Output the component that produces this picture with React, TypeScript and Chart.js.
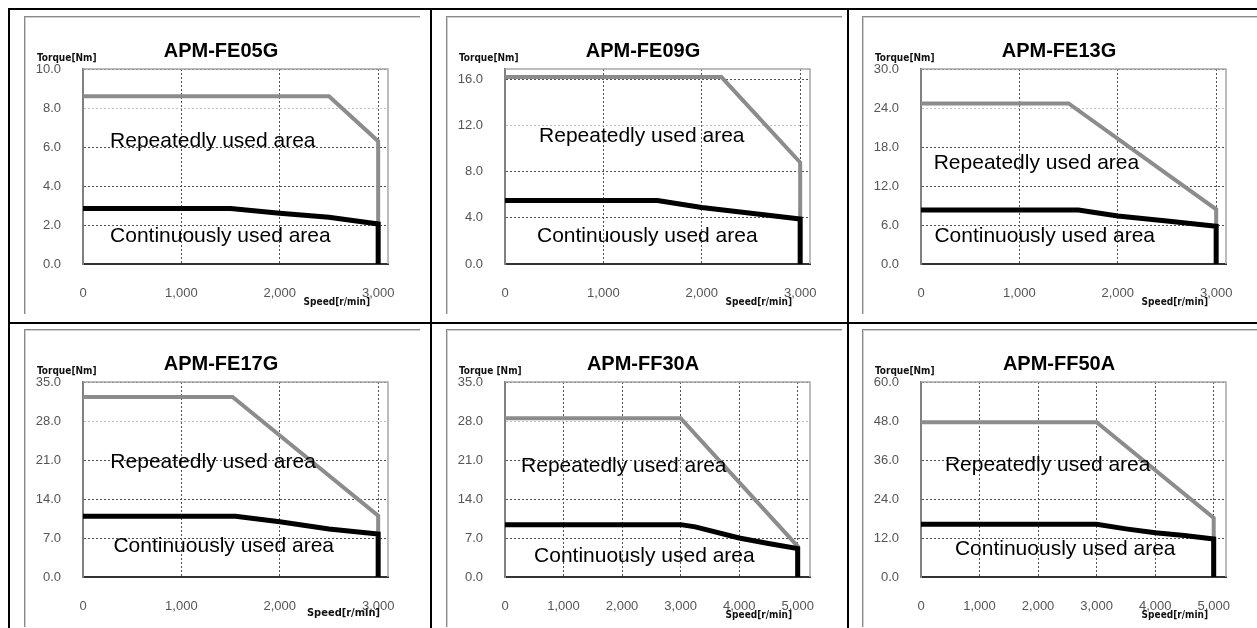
import React, { useEffect, useRef } from 'react';
import { Chart, registerables } from 'chart.js';

Chart.register(...registerables);

// ---------- data ----------
const speedTicks3000 = [0, 1000, 2000, 3000];
const speedTicks5000 = [0, 1000, 2000, 3000, 4000, 5000];

// APM-FE05G
const fe05gTorqueTicks = [0, 2, 4, 6, 8, 10];
const fe05gRepeatSpeed = [0, 2500, 3000, 3000];
const fe05gRepeatTorque = [8.6, 8.6, 6.3, 0];
const fe05gContSpeed = [0, 1500, 2000, 2500, 3000, 3000];
const fe05gContTorque = [2.85, 2.85, 2.6, 2.4, 2.05, 0];

// APM-FE09G
const fe09gTorqueTicks = [0, 4, 8, 12, 16];
const fe09gRepeatSpeed = [0, 2200, 3000, 3000];
const fe09gRepeatTorque = [16.2, 16.2, 8.8, 0];
const fe09gContSpeed = [0, 1550, 2000, 2500, 3000, 3000];
const fe09gContTorque = [5.5, 5.5, 4.9, 4.4, 3.9, 0];

// APM-FE13G
const fe13gTorqueTicks = [0, 6, 12, 18, 24, 30];
const fe13gRepeatSpeed = [0, 1500, 3000, 3000];
const fe13gRepeatTorque = [24.7, 24.7, 8.4, 0];
const fe13gContSpeed = [0, 1600, 2000, 2500, 3000, 3000];
const fe13gContTorque = [8.3, 8.3, 7.4, 6.6, 5.8, 0];

// APM-FE17G
const fe17gTorqueTicks = [0, 7, 14, 21, 28, 35];
const fe17gRepeatSpeed = [0, 1520, 3000, 3000];
const fe17gRepeatTorque = [32.3, 32.3, 11.0, 0];
const fe17gContSpeed = [0, 1550, 2000, 2500, 3000, 3000];
const fe17gContTorque = [10.9, 10.9, 9.9, 8.6, 7.7, 0];

// APM-FF30A
const ff30aTorqueTicks = [0, 7, 14, 21, 28, 35];
const ff30aRepeatSpeed = [0, 3000, 5000, 5000];
const ff30aRepeatTorque = [28.5, 28.5, 5.5, 0];
const ff30aContSpeed = [0, 3000, 3250, 4000, 4500, 5000, 5000];
const ff30aContTorque = [9.4, 9.4, 9.0, 7.0, 6.0, 5.1, 0];

// APM-FF50A
const ff50aTorqueTicks = [0, 12, 24, 36, 48, 60];
const ff50aRepeatSpeed = [0, 3000, 5000, 5000];
const ff50aRepeatTorque = [47.6, 47.6, 18.2, 0];
const ff50aContSpeed = [0, 3000, 3500, 4000, 4500, 5000, 5000];
const ff50aContTorque = [16.2, 16.2, 14.8, 13.6, 12.8, 11.7, 0];

const repeatLabel = 'Repeatedly used area';
const contLabel = 'Continuously used area';

type Panel = {
  title: string;
  torqueLabel: string;
  speedLabel: string;
  speedBig?: boolean;
  yTicks: number[];
  yMax: number;
  xTicks: number[];
  xMax: number;
  repeatSpeed: number[];
  repeatTorque: number[];
  contSpeed: number[];
  contTorque: number[];
  lightGrid: number;
  repeatPos: [number, number];
  contPos: [number, number];
  left: number;
  top: number;
};

const panels: Panel[] = [
  {
    title: 'APM-FE05G', torqueLabel: 'Torque[Nm]', speedLabel: 'Speed[r/min]',
    yTicks: fe05gTorqueTicks, yMax: 10, xTicks: speedTicks3000, xMax: 3100,
    repeatSpeed: fe05gRepeatSpeed, repeatTorque: fe05gRepeatTorque,
    contSpeed: fe05gContSpeed, contTorque: fe05gContTorque,
    lightGrid: 8, repeatPos: [275, 6.3], contPos: [275, 1.4], left: 24, top: 16,
  },
  {
    title: 'APM-FE09G', torqueLabel: 'Torque[Nm]', speedLabel: 'Speed[r/min]',
    yTicks: fe09gTorqueTicks, yMax: 16.9, xTicks: speedTicks3000, xMax: 3100,
    repeatSpeed: fe09gRepeatSpeed, repeatTorque: fe09gRepeatTorque,
    contSpeed: fe09gContSpeed, contTorque: fe09gContTorque,
    lightGrid: 12, repeatPos: [346, 11.1], contPos: [325, 2.4], left: 446, top: 16,
  },
  {
    title: 'APM-FE13G', torqueLabel: 'Torque[Nm]', speedLabel: 'Speed[r/min]',
    yTicks: fe13gTorqueTicks, yMax: 30, xTicks: speedTicks3000, xMax: 3100,
    repeatSpeed: fe13gRepeatSpeed, repeatTorque: fe13gRepeatTorque,
    contSpeed: fe13gContSpeed, contTorque: fe13gContTorque,
    lightGrid: 24, repeatPos: [129, 15.5], contPos: [136, 4.2], left: 862, top: 16,
  },
  {
    title: 'APM-FE17G', torqueLabel: 'Torque[Nm]', speedLabel: 'Speed[r/min]', speedBig: true,
    yTicks: fe17gTorqueTicks, yMax: 35, xTicks: speedTicks3000, xMax: 3100,
    repeatSpeed: fe17gRepeatSpeed, repeatTorque: fe17gRepeatTorque,
    contSpeed: fe17gContSpeed, contTorque: fe17gContTorque,
    lightGrid: 28, repeatPos: [278, 20.6], contPos: [309, 5.6], left: 24, top: 329,
  },
  {
    title: 'APM-FF30A', torqueLabel: 'Torque [Nm]', speedLabel: 'Speed[r/min]',
    yTicks: ff30aTorqueTicks, yMax: 35, xTicks: speedTicks5000, xMax: 5210,
    repeatSpeed: ff30aRepeatSpeed, repeatTorque: ff30aRepeatTorque,
    contSpeed: ff30aContSpeed, contTorque: ff30aContTorque,
    lightGrid: 28, repeatPos: [274, 19.9], contPos: [496, 3.7], left: 446, top: 329,
  },
  {
    title: 'APM-FF50A', torqueLabel: 'Torque[Nm]', speedLabel: 'Speed[r/min]',
    yTicks: ff50aTorqueTicks, yMax: 60, xTicks: speedTicks5000, xMax: 5210,
    repeatSpeed: ff50aRepeatSpeed, repeatTorque: ff50aRepeatTorque,
    contSpeed: ff50aContSpeed, contTorque: ff50aContTorque,
    lightGrid: 48, repeatPos: [409, 34.5], contPos: [579, 8.5], left: 862, top: 329,
  },
];

const CW = 396;
const CH = 298;

function TorqueChart({ cfg }: { cfg: Panel }) {
  const ref = useRef<HTMLCanvasElement | null>(null);

  useEffect(() => {
    if (!ref.current) return;
    const toPts = (xs: number[], ys: number[]) => xs.map((x, i) => ({ x, y: ys[i] }));

    const decor = {
      id: 'decor',
      beforeDatasetsDraw(chart: any) {
        const { ctx, chartArea } = chart;
        ctx.save();
        ctx.strokeStyle = '#a6a6a6';
        ctx.lineWidth = 1.5;
        ctx.beginPath();
        ctx.moveTo(chartArea.left, chartArea.top);
        ctx.lineTo(chartArea.right, chartArea.top);
        ctx.lineTo(chartArea.right, chartArea.bottom);
        ctx.stroke();
        ctx.restore();
      },
      afterDatasetsDraw(chart: any) {
        const { ctx, chartArea, scales } = chart;
        const xs = scales.x;
        const ys = scales.y;
        ctx.save();
        // area labels
        ctx.fillStyle = '#000';
        ctx.font = '21px "Liberation Sans", Arial, sans-serif';
        ctx.textAlign = 'left';
        ctx.textBaseline = 'middle';
        ctx.fillText(repeatLabel, xs.getPixelForValue(cfg.repeatPos[0]), ys.getPixelForValue(cfg.repeatPos[1]));
        ctx.fillText(contLabel, xs.getPixelForValue(cfg.contPos[0]), ys.getPixelForValue(cfg.contPos[1]));
        // title
        ctx.font = 'bold 20px "Liberation Sans", Arial, sans-serif';
        ctx.textAlign = 'center';
        ctx.fillText(cfg.title, CW / 2 - 1, 35);
        // axis names
        ctx.fillStyle = '#111';
        ctx.font = 'bold 10px "DejaVu Sans Condensed", "DejaVu Sans", sans-serif';
        ctx.textAlign = 'left';
        ctx.fillText(cfg.torqueLabel, chartArea.left - 46, chartArea.top - 11);
        ctx.textAlign = 'right';
        if (cfg.speedBig) {
          ctx.font = 'bold 11px "DejaVu Sans Condensed", "DejaVu Sans", sans-serif';
          ctx.fillText(cfg.speedLabel, chartArea.right - 8, chartArea.bottom + 36);
        } else {
          ctx.fillText(cfg.speedLabel, chartArea.right - 18, chartArea.bottom + 38);
        }
        ctx.restore();
      },
    };

    const tickFont = { family: '"Liberation Sans Narrow", "Liberation Sans", sans-serif', size: 13 };

    const chart = new Chart(ref.current, {
      type: 'line',
      data: {
        datasets: [
          {
            label: 'Continuous',
            data: toPts(cfg.contSpeed, cfg.contTorque),
            borderColor: '#000000',
            borderWidth: 5,
            pointRadius: 0,
            tension: 0,
            fill: false,
            borderCapStyle: 'butt',
            borderJoinStyle: 'miter',
            order: 0,
          },
          {
            label: 'Repeated',
            data: toPts(cfg.repeatSpeed, cfg.repeatTorque),
            borderColor: '#8c8c8c',
            borderWidth: 4,
            pointRadius: 0,
            tension: 0,
            fill: false,
            borderCapStyle: 'butt',
            borderJoinStyle: 'miter',
            order: 1,
          },
        ],
      },
      options: {
        animation: false,
        responsive: false,
        devicePixelRatio: 1,
        layout: { padding: { top: 53, right: 32, left: 0, bottom: 0 } },
        plugins: { legend: { display: false }, tooltip: { enabled: false }, title: { display: false } },
        scales: {
          x: {
            type: 'linear',
            min: 0,
            max: cfg.xMax,
            afterBuildTicks: (s: any) => { s.ticks = cfg.xTicks.map((v) => ({ value: v })); },
            afterFit: (s: any) => { s.height = 50; },
            ticks: {
              padding: 22,
              maxRotation: 0,
              autoSkip: false,
              color: '#555',
              font: tickFont,
              callback: (v: any) => Number(v).toLocaleString('en-US'),
            },
            grid: { color: '#505050', lineWidth: 1, drawTicks: false },
            border: { display: true, color: '#333', width: 2, dash: [2, 2] },
          },
          y: {
            type: 'linear',
            min: 0,
            max: cfg.yMax,
            afterBuildTicks: (s: any) => { s.ticks = cfg.yTicks.map((v) => ({ value: v })); },
            afterFit: (s: any) => { s.width = 59; },
            ticks: {
              padding: 22,
              autoSkip: false,
              color: '#555',
              font: tickFont,
              callback: (v: any) => Number(v).toFixed(1),
            },
            grid: {
              color: (c: any) => (c.tick && c.tick.value === cfg.lightGrid ? '#c4c4c4' : '#505050'),
              lineWidth: 1,
              drawTicks: false,
            },
            border: { display: true, color: '#808080', width: 2, dash: [2, 2] },
          },
        },
      } as any,
      plugins: [decor],
    } as any);

    return () => chart.destroy();
  }, [cfg]);

  return (
    <>
      <div
        style={{
          position: 'absolute',
          left: cfg.left,
          top: cfg.top,
          width: CW,
          height: CH,
          borderTop: '1px solid #8a8a8a',
          borderLeft: '1px solid #8a8a8a',
          boxShadow: 'inset 1px 1px 0 #cfcfcf',
          boxSizing: 'border-box',
        }}
      />
      <canvas
        ref={ref}
        width={CW}
        height={CH}
        style={{ position: 'absolute', left: cfg.left, top: cfg.top, width: CW, height: CH }}
      />
    </>
  );
}

const line = (left: number, top: number, width: number, height: number) => (
  <div style={{ position: 'absolute', left, top, width, height, background: '#000' }} />
);

export default function App() {
  return (
    <div
      style={{
        position: 'fixed',
        left: 0,
        top: 0,
        width: 1257,
        height: 628,
        overflow: 'hidden',
        background: '#fff',
      }}
    >
      {panels.map((p) => (
        <TorqueChart key={p.title} cfg={p} />
      ))}
      {line(8, 8, 1249, 2)}
      {line(8, 8, 2, 620)}
      {line(8, 322, 1249, 2)}
      {line(430, 8, 2, 620)}
      {line(847, 8, 2, 620)}
    </div>
  );
}
